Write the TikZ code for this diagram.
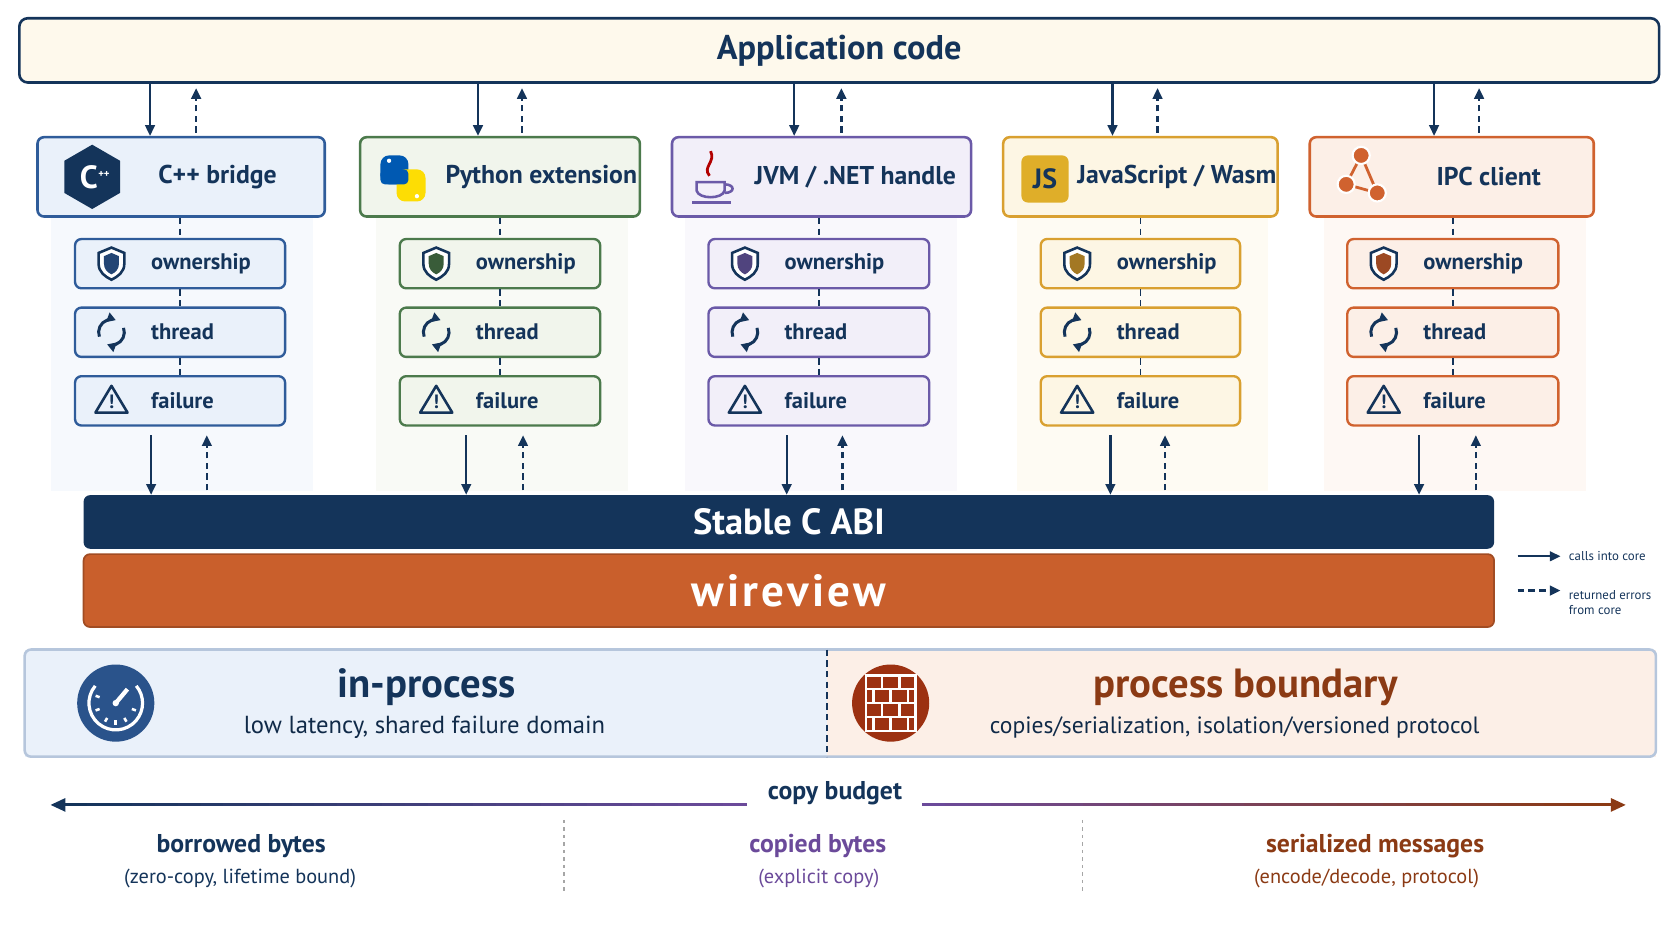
\documentclass[tikz,border=0pt]{standalone}
\usepackage{fontspec}
\setmainfont{PT Sans}
\usetikzlibrary{arrows.meta,shapes.geometric}
\definecolor{navy}{HTML}{14345A}
\definecolor{cppc}{HTML}{2F5C9A}\definecolor{cppf}{HTML}{EAF1FA}
\definecolor{pyc}{HTML}{4C7A4C}\definecolor{pyf}{HTML}{F1F5EC}
\definecolor{jvmc}{HTML}{6B5AA8}\definecolor{jvmf}{HTML}{F2EFF9}
\definecolor{jsc}{HTML}{D9A030}\definecolor{jsf}{HTML}{FDF6E4}
\definecolor{ipcc}{HTML}{D0622F}\definecolor{ipcf}{HTML}{FCEFE7}
\definecolor{wire}{HTML}{C95F2C}
\definecolor{brown}{HTML}{8B3A14}
\definecolor{purp}{HTML}{6B4A9A}
\tikzset{
  head/.style={draw=#1c,fill=#1f,line width=1.2pt,rounded corners=3pt,minimum height=37pt},
  sub/.style={draw=#1c,fill=#1f,line width=1.1pt,rounded corners=3pt,minimum height=23pt},
  call/.style={-{Triangle[length=5pt,width=4.5pt]},navy,line width=1.1pt},
  ret/.style={call,dash pattern=on 3pt off 2pt},
  link/.style={navy,line width=0.8pt,dash pattern=on 3pt off 2pt},
  ttl/.style={font=\fontsize{12}{14}\selectfont\bfseries,text=navy},
  lbl/.style={font=\fontsize{10.5}{12}\selectfont\bfseries,text=navy,anchor=west},
  shield/.pic={\draw[navy,line width=1.2pt,fill=white] (-12,-10) -- (0,-15) -- (12,-10) -- (12,0) .. controls (12,8) and (6,12) .. (0,15) .. controls (-6,12) and (-12,8) .. (-12,0) -- cycle;
               \fill[#1] (-7,-7) -- (0,-10) -- (7,-7) -- (7,0) .. controls (7,5) and (4,8) .. (0,10) .. controls (-4,8) and (-7,5) .. (-7,0) -- cycle;},
  cycl/.pic={\draw[navy,line width=1.4pt,-{Triangle[length=4pt,width=4.5pt]}] (160:12) arc (160:290:12);
             \draw[navy,line width=1.4pt,-{Triangle[length=4pt,width=4.5pt]}] (340:12) arc (340:470:12);},
  warn/.pic={\draw[navy,line width=1.2pt,line join=round] (0,-13) -- (15,12) -- (-15,12) -- cycle;
             \node[font=\fontsize{9}{9}\selectfont\bfseries,text=navy] at (0,2) {!};},
}
\begin{document}
\begin{tikzpicture}[x=0.5pt,y=-0.5pt]
  \useasboundingbox (0,0) rectangle (1560,878);
  % application layer
  \node[draw=navy,fill=jsf!70,line width=1.2pt,rounded corners=4pt,minimum width=765pt,minimum height=30pt,
        font=\fontsize{16}{18}\selectfont\bfseries,text=navy] (app) at (783,47) {Application code};

  % bindings
  \foreach \n/\xl/\xr/\sl/\sr/\t/\tx/\da/\ua in
      {cpp/35/303/70/266/{C++ bridge}/203/140/183,
       py/336/597/373/560/{Python extension}/505/446/487,
       jvm/627/906/661/867/{JVM / .NET handle}/798/741/785,
       js/936/1192/971/1157/{JavaScript / Wasm}/1098/1038/1080,
       ipc/1222/1487/1257/1454/{IPC client}/1389/1338/1380}
  {
    \fill[\n f!45] (\sl-22,202) rectangle (\sr+26,458);
    \node[head=\n,minimum width={(\xr-\xl)*0.5pt}] (\n) at ({(\xl+\xr)/2},165) {};
    \node[ttl] (\n-t) at (\tx,165) {\t};
    \foreach \s/\y/\l in {own/246/ownership,thr/310/thread,fail/374/failure}
    {
      \node[sub=\n,minimum width={(\sr-\sl)*0.5pt}] (\n-\s) at ({(\sl+\sr)/2},\y) {};
      \node[lbl] at (\sl+64,\y) {\l};
    }
    \pic at (\sl+34,246) {shield=\n c!75!black};
    \pic at (\sl+34,310) {cycl};
    \pic at (\sl+34,373) {warn};
    \draw[link] (\n.south -| {(\sl+\sr)/2},0) -- (\n-own.north -| {(\sl+\sr)/2},0);
    \draw[link] (\n-own) -- (\n-thr);
    \draw[link] (\n-thr) -- (\n-fail);
    \draw[call] (app.south -| \da,0) -- (\n.north -| \da,0);
    \draw[ret,shorten <=1.5pt,shorten >=2pt] (\n.north -| \ua,0) -- (app.south -| \ua,0);
  }

  % icons
  \node[regular polygon,regular polygon sides=6,shape border rotate=30,fill=navy,minimum size=30pt,inner sep=0pt] (cpp-i) at (86,165) {};
  \node[text=white,font=\fontsize{15}{15}\selectfont\bfseries] at (83,165) {C};
  \node[text=white,font=\fontsize{5}{5}\selectfont\bfseries] at (97,163) {++};
  \fill[blue!50!cyan!70!black,rounded corners=4pt] (355,145) rectangle (381,172);
  \fill[yellow!80!orange,rounded corners=4pt] (370,158) rectangle (397,188);
  \fill[blue!50!cyan!70!black,rounded corners=2pt] (355,158) rectangle (381,172);
  \fill[white] (363,150) circle (2) (389,183) circle (2);
  \draw[jvmc,line width=1.2pt] (650,170) -- (650,178) .. controls (652,186) and (674,186) .. (676,178) -- (676,170) -- cycle;
  \draw[jvmc,line width=1.2pt] (676,172) .. controls (686,172) and (686,180) .. (676,180);
  \draw[red!70!black,line width=1.3pt] (662,164) .. controls (655,156) and (668,151) .. (663,141);
  \draw[jvmc,line width=1.1pt] (646,189) -- (682,189);
  \node[fill=jsc!85!yellow,rounded corners=3pt,minimum size=22pt,inner sep=0pt,text=navy,
        font=\fontsize{13}{13}\selectfont\bfseries] (js-i) at (975,167) {JS};
  \draw[ipcc,line width=1.3pt] (1256,172) -- (1270,145) -- (1285,180) -- cycle;
  \foreach \p in {(1256,172),(1270,145),(1285,180)}
    \fill[ipcc,draw=white,line width=1pt] \p circle (8);

  % core
  \node[fill=navy,rounded corners=3pt,minimum width=658pt,minimum height=25pt,text=white,
        font=\fontsize{17}{19}\selectfont\bfseries] (abi) at (736,487) {Stable C ABI};
  \node[fill=wire,draw=wire!80!black,line width=0.8pt,rounded corners=3pt,minimum width=658pt,minimum height=34pt,text=white,
        font=\fontsize{21}{24}\selectfont\bfseries] (core) at (736,551) {w\kern1.5pt i\kern1.5pt r\kern1.5pt e\kern1.5pt v\kern1.5pt i\kern1.5pt e\kern1.5pt w};
  \foreach \n/\db/\ub in {cpp/141/193,py/435/488,jvm/734/786,js/1036/1087,ipc/1324/1377}
  {
    \draw[call,shorten <=4pt] (\n-fail.south -| \db,0) -- (abi.north -| \db,0);
    \draw[ret,shorten <=2pt,shorten >=4pt] (abi.north -| \ub,0) -- (\n-fail.south -| \ub,0);
  }

  % legend
  \coordinate (l1) at (1416,519);
  \coordinate (l2) at (1416,551);
  \draw[call] (l1) -- ++(40,0) node[right,text=navy,font=\fontsize{6}{7}\selectfont] (lc) {calls into core};
  \draw[ret] (l2) -- ++(40,0) node[right,text=navy,font=\fontsize{6}{7}\selectfont,align=left,anchor=north west,yshift=4pt] (lr) {returned errors\\from core};

  % deployment
  \fill[cppf] (23,606) rectangle (772,706);
  \fill[ipcf] (772,606) rectangle (1545,706);
  \draw[cppc!35,line width=1.2pt,rounded corners=3pt] (23,606) rectangle (1545,706);
  \draw[navy,line width=0.9pt,dash pattern=on 3pt off 2pt] (772,606) -- (772,706);
  \fill[cppc!90!black] (108,656) circle (36);
  \draw[white,line width=1.5pt] (108,656) ++(220:25) arc (220:-40:25);
  \foreach \a in {200,160,120,90,60,20} \draw[white,line width=1.2pt] (108,656) ++(\a:20) -- ++(\a:-4);
  \draw[white,line width=2pt] (108,656) -- ++(-50:17);
  \fill[white] (108,656) circle (3);
  \fill[brown!85!red] (831,656) circle (36);
  \foreach \r in {0,1,2,3} \draw[white,line width=1.2pt] (808,630+\r*13) rectangle (854,643+\r*13);
  \foreach \x in {823,839} \foreach \r in {0,2} \draw[white,line width=1.2pt] (\x,630+\r*13) -- (\x,643+\r*13);
  \foreach \x in {815,831,847} \foreach \r in {1,3} \draw[white,line width=1.2pt] (\x,630+\r*13) -- (\x,643+\r*13);
  \node[text=navy,font=\fontsize{19}{21}\selectfont\bfseries] (inproc) at (398,641) {in-process};
  \node[text=navy!80!black,font=\fontsize{11.5}{14}\selectfont] at (396,679) {low latency, shared failure domain};
  \node[text=brown,font=\fontsize{19}{21}\selectfont\bfseries] (procb) at (1162,641) {process boundary};
  \node[text=navy!80!black,font=\fontsize{11}{14}\selectfont] at (1152,679) {copies/serialization, isolation/versioned protocol};

  % copy budget
  \foreach \i [evaluate=\i as \p using int(100-\i*100/29)] in {0,...,29}
    \draw[navy!\p!purp,line width=1.4pt] ({60+\i*21.2},751) -- ({60+(\i+1)*21.2+0.5},751);
  \foreach \i [evaluate=\i as \p using int(100-\i*100/29)] in {0,...,29}
    \draw[purp!\p!brown,line width=1.4pt] ({860+\i*21.5},751) -- ({860+(\i+1)*21.5+0.5},751);
  \coordinate (cbl) at (47,751);
  \coordinate (cbr) at (1517,751);
  \draw[-{Triangle[length=7pt,width=6pt]},navy,line width=1.4pt] (62,751) -- (cbl);
  \draw[-{Triangle[length=7pt,width=6pt]},brown,line width=1.4pt] (1500,751) -- (cbr);
  \node[fill=white,text=navy,font=\fontsize{12}{14}\selectfont\bfseries] (cb) at (779,740) {copy budget};
  \draw[gray!70,line width=0.8pt,dash pattern=on 1.5pt off 2pt] (526,765) -- (526,835);
  \draw[gray!70,line width=0.8pt,dash pattern=on 1.5pt off 2pt] (1010,765) -- (1010,835);
  \node[text=navy,font=\fontsize{12}{14}\selectfont\bfseries] at (225,789) {borrowed bytes};
  \node[text=navy,font=\fontsize{9.5}{12}\selectfont] at (224,820) {(zero-copy, lifetime bound)};
  \node[text=purp,font=\fontsize{12}{14}\selectfont\bfseries] at (763,789) {copied bytes};
  \node[text=purp,font=\fontsize{9.5}{12}\selectfont] at (764,820) {(explicit copy)};
  \node[text=brown,font=\fontsize{12}{14}\selectfont\bfseries] at (1283,789) {serialized messages};
  \node[text=brown,font=\fontsize{9.5}{12}\selectfont] at (1275,820) {(encode/decode, protocol)};
\end{tikzpicture}
\end{document}
